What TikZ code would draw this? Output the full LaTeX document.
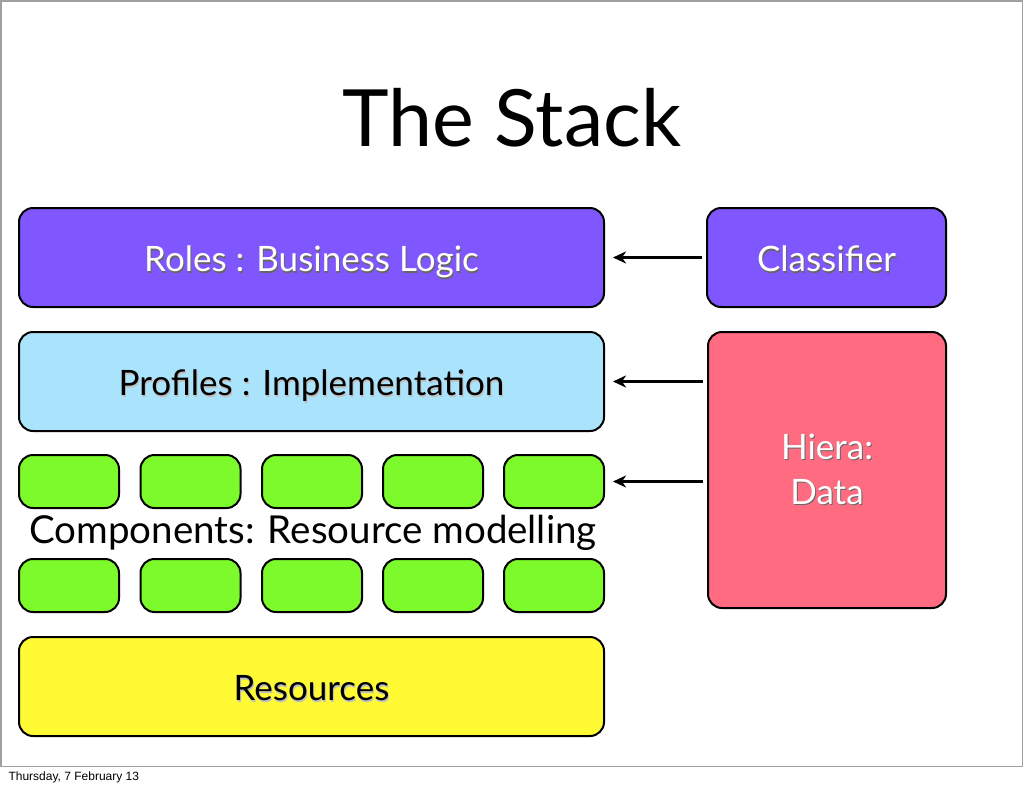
\documentclass[tikz,border=0pt]{standalone}
\usepackage{fontspec}
\setmainfont{Lato}
\newfontfamily\footfont{Liberation Sans}
\usepackage{xcolor}
\usepackage{tikz}
\usetikzlibrary{calc,arrows.meta}

\definecolor{rolepurple}{RGB}{128,86,255}
\definecolor{profileblue}{RGB}{170,228,252}
\definecolor{compgreen}{RGB}{124,250,44}
\definecolor{hierapink}{RGB}{255,107,128}
\definecolor{resyellow}{RGB}{255,250,52}
\definecolor{framegray}{RGB}{160,160,160}

\newcommand{\shadowed}[2][black!60]{\leavevmode\rlap{\kern1pt\raisebox{-1.5pt}{\textcolor{#1}{#2}}}#2}

\begin{document}
\begin{tikzpicture}[x=1pt,y=-1pt]
    \tikzstyle{layer} = [
      draw=black,
      line width=2pt,
      rounded corners=14pt,
      anchor=center,
      inner sep=0pt,
      text height=28pt,
      text depth=0pt,
      font=\fontsize{35}{45}\selectfont,
    ]
    \tikzstyle{comp} = [layer,fill=compgreen,minimum width=100pt,minimum height=53pt]
    \tikzstyle{dedge} = [line width=2.4pt,->,>={Stealth[length=13pt,width=12pt,inset=4pt]},draw=black]

    \useasboundingbox (0,0) rectangle (1024,788);
    \draw[framegray,line width=1.5pt] (0.75,766.5) -- (0.75,0.75) -- (1022.5,0.75) -- (1022.5,766.5) -- cycle;

    \node[font=\fontsize{79}{90}\selectfont] (title) at (512,118) {The Stack};

    \node[layer,fill=rolepurple,text=white,minimum width=585pt,minimum height=99pt] (roles) at (311.5,257.5) {\shadowed{Roles : Business Logic}};
    \node[layer,fill=rolepurple,text=white,minimum width=239pt,minimum height=99pt] (classifier) at (826.5,257.5) {\shadowed{Classifier}};
    \node[layer,fill=profileblue,minimum width=585pt,minimum height=99pt] (profiles) at (311.5,381.5) {\shadowed[black!25]{Profiles : Implementation}};
    \node[layer,fill=hierapink,text=white,minimum width=238pt,minimum height=276pt,align=center,text height=,text depth=] (hiera) at (827,470) {\shadowed{Hiera:}\\\shadowed{Data}};

    \node[comp] (c11) at (69,481.5) {};
    \node[comp] (c12) at (190.5,481.5) {};
    \node[comp] (c13) at (312,481.5) {};
    \node[comp] (c14) at (433,481.5) {};
    \node[comp] (c15) at (554,481.5) {};
    \node[font=\fontsize{38.5}{42}\selectfont] (components) at (313,533) {Components: Resource modelling};
    \node[comp] (c21) at (69,585.5) {};
    \node[comp] (c22) at (190.5,585.5) {};
    \node[comp] (c23) at (312,585.5) {};
    \node[comp] (c24) at (433,585.5) {};
    \node[comp] (c25) at (554,585.5) {};

    \node[layer,fill=resyellow,minimum width=585pt,minimum height=99pt] (resources) at (311.5,686.5) {\shadowed[black!25]{Resources}};

    \draw[dedge,shorten <=4pt,shorten >=8pt] (classifier) -- (roles);
    \draw[dedge,shorten <=4pt,shorten >=8pt] (profiles.east -| hiera.west) -- (profiles.east);
    \draw[dedge,shorten <=4pt,shorten >=8pt] (c15.east -| hiera.west) -- (c15.east);

    \node[font=\footfont\fontsize{12}{14}\selectfont,anchor=west] (footer) at (5,777) {Thursday, 7 February 13};
  \end{tikzpicture}
\end{document}
